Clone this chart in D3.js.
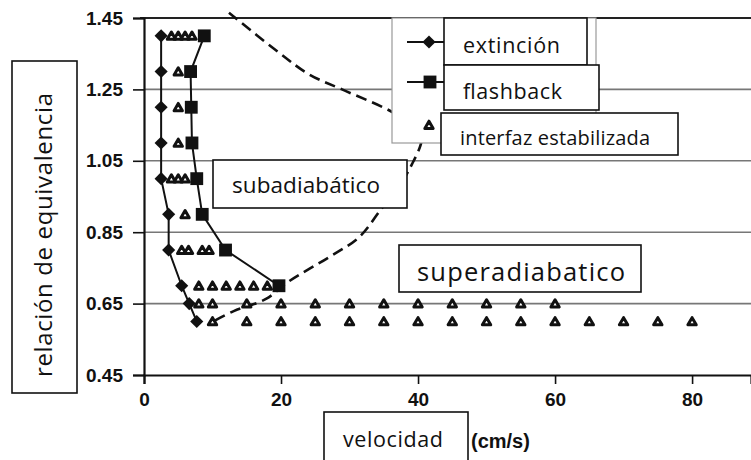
<!DOCTYPE html>
<html>
<head>
<meta charset="utf-8">
<script src="https://cdn.jsdelivr.net/npm/d3@7"></script>
<style>
  body { margin: 0; background: #fff; }
  .tick text { font-family: "Liberation Sans", Arial, sans-serif; font-weight: bold; font-size: 19px; fill: #111; }
  .lbl { font-family: "Open Sans", "Noto Sans", sans-serif; fill: #111; }
</style>
</head>
<body>
<svg width="751" height="460"></svg>
<script>
// ---- data ----
const yTicks = [0.45, 0.65, 0.85, 1.05, 1.25, 1.45];
const xTicks = [0, 20, 40, 60, 80];
const gridY = [0.65, 0.85, 1.05, 1.25];

// extinción (diamonds)
const extX = [2.5, 2.5, 2.5, 2.5, 2.5, 3.6, 3.6, 5.5, 6.6, 7.7];
const extY = [1.4, 1.3, 1.2, 1.1, 1.0, 0.9, 0.8, 0.7, 0.65, 0.6];

// flashback (squares)
const flbX = [8.8, 6.8, 6.9, 7.0, 7.7, 8.5, 11.9, 19.7];
const flbY = [1.4, 1.3, 1.2, 1.1, 1.0, 0.9, 0.8, 0.7];

// interfaz estabilizada (triangles)
const triX = [4, 5, 6, 7,  5,  5,  5,  4, 5, 6,  6,  5.5, 6.5, 8.5, 9.5,
              8, 10, 12, 14, 16, 18,
              8, 10, 15, 20, 25, 30, 35, 40, 45, 50, 55, 60,
              10, 15, 20, 25, 30, 35, 40, 45, 50, 55, 60, 65, 70, 75, 80];
const triY = [1.4, 1.4, 1.4, 1.4, 1.3, 1.2, 1.1, 1.0, 1.0, 1.0, 0.9, 0.8, 0.8, 0.8, 0.8,
              0.7, 0.7, 0.7, 0.7, 0.7, 0.7,
              0.65, 0.65, 0.65, 0.65, 0.65, 0.65, 0.65, 0.65, 0.65, 0.65, 0.65, 0.65,
              0.6, 0.6, 0.6, 0.6, 0.6, 0.6, 0.6, 0.6, 0.6, 0.6, 0.6, 0.6, 0.6, 0.6, 0.6];

// dashed boundary curve
const dashX = [12.4, 19.7, 24.1, 28.9, 36.1, 40.6, 40.4, 39.1, 37.2, 34.6, 31.4, 27.0, 21.2, 17.8, 13.1, 9.9];
const dashY = [1.465, 1.353, 1.292, 1.25, 1.188, 1.13, 1.096, 1.04, 0.976, 0.914, 0.836, 0.78, 0.713, 0.663, 0.629, 0.598];

const svg = d3.select("svg");
const W = 751, H = 460;
const x = d3.scaleLinear().domain([0, 88.6]).range([144, 751]);
const y = d3.scaleLinear().domain([0.45, 1.45]).range([375, 18]);

svg.append("rect").attr("width", W).attr("height", H).attr("fill", "#fff");

// gridlines
svg.selectAll(".grid").data(gridY).enter().append("line")
  .attr("x1", 144).attr("x2", W)
  .attr("y1", d => y(d)).attr("y2", d => y(d))
  .attr("stroke", "#777").attr("stroke-width", 1.6);
// top frame
svg.append("line").attr("x1", 140).attr("x2", W)
  .attr("y1", y(1.45)).attr("y2", y(1.45))
  .attr("stroke", "#222").attr("stroke-width", 2.2);

// axes
const yAxis = svg.append("g").attr("transform", "translate(144,0)")
  .call(d3.axisLeft(y).tickValues(yTicks).tickFormat(d3.format(".2f")).tickSize(11).tickPadding(10));
const xAxis = svg.append("g").attr("transform", "translate(0,375)")
  .call(d3.axisBottom(x).tickValues(xTicks).tickFormat(d3.format("d")).tickSize(9).tickPadding(9));
[yAxis, xAxis].forEach(g => {
  g.select(".domain").attr("stroke", "#111").attr("stroke-width", 2.2);
  g.selectAll(".tick line").attr("stroke", "#111").attr("stroke-width", 1.6);
});

// dashed curve
const dashPts = dashX.map((d, i) => [d, dashY[i]]);
svg.append("path")
  .attr("d", d3.line().x(d => x(d[0])).y(d => y(d[1])).curve(d3.curveCatmullRom)(dashPts))
  .attr("fill", "none").attr("stroke", "#111").attr("stroke-width", 2.6)
  .attr("stroke-dasharray", "11,6");

// series lines
const line = d3.line().x(d => x(d[0])).y(d => y(d[1]));
const extPts = extX.map((d, i) => [d, extY[i]]);
const flbPts = flbX.map((d, i) => [d, flbY[i]]);
svg.append("path").attr("d", line(extPts)).attr("fill", "none").attr("stroke", "#111").attr("stroke-width", 2);
svg.append("path").attr("d", line(flbPts)).attr("fill", "none").attr("stroke", "#111").attr("stroke-width", 2);

const diamond = d3.symbol().type(d3.symbolDiamond2 || d3.symbolDiamond).size(110);
const square = d3.symbol().type(d3.symbolSquare).size(165);
const tri = d3.symbol().type(d3.symbolTriangle).size(30);

// triangles
const triPts = triX.map((d, i) => [d, triY[i]]);
svg.selectAll(".tri").data(triPts).enter().append("path")
  .attr("d", tri)
  .attr("transform", d => `translate(${x(d[0])},${y(d[1]) + 1})`)
  .attr("fill", "#fff").attr("stroke", "#111").attr("stroke-width", 3)
  .attr("stroke-linejoin", "round");

svg.selectAll(".dia").data(extPts).enter().append("path")
  .attr("d", diamond)
  .attr("transform", d => `translate(${x(d[0])},${y(d[1])})`)
  .attr("fill", "#111");
svg.selectAll(".sq").data(flbPts).enter().append("path")
  .attr("d", square)
  .attr("transform", d => `translate(${x(d[0])},${y(d[1])})`)
  .attr("fill", "#111");

// legend
svg.append("rect").attr("x", 392).attr("y", 18).attr("width", 204).attr("height", 125)
  .attr("fill", "#fff").attr("stroke", "#999").attr("stroke-width", 1.2);
svg.append("line").attr("x1", 407).attr("x2", 444).attr("y1", 42).attr("y2", 42).attr("stroke", "#111").attr("stroke-width", 2);
svg.append("path").attr("d", diamond).attr("transform", "translate(429,42)").attr("fill", "#111");
svg.append("line").attr("x1", 407).attr("x2", 444).attr("y1", 82).attr("y2", 82).attr("stroke", "#111").attr("stroke-width", 2);
svg.append("path").attr("d", square).attr("transform", "translate(430,82)").attr("fill", "#111");
svg.append("path").attr("d", tri).attr("transform", "translate(429,126)")
  .attr("fill", "#fff").attr("stroke", "#111").attr("stroke-width", 3).attr("stroke-linejoin", "round");

// text boxes
function box(bx, by, bw, bh, txt, tx, ty, size, len) {
  svg.append("rect").attr("x", bx).attr("y", by).attr("width", bw).attr("height", bh)
    .attr("fill", "#fff").attr("stroke", "#111").attr("stroke-width", 1.6);
  svg.append("text").attr("class", "lbl").attr("x", tx).attr("y", ty)
    .attr("font-size", size).attr("textLength", len).attr("lengthAdjust", "spacing")
    .text(txt);
}
box(444, 18, 143, 47, "extinción", 463, 53, 21.5, 97);
box(444, 65, 155, 45, "flashback", 463, 99, 21.5, 99);
box(441, 113, 237, 42, "interfaz estabilizada", 460, 145, 20, 190);
box(213, 160, 194, 48, "subadiabático", 232, 193, 22.5, 148);
box(399, 245, 242, 47, "superadiabatico", 417, 281, 25.5, 208);
box(324, 412, 144, 60, "velocidad", 343, 447, 21.5, 100);

// y label box
svg.append("rect").attr("x", 12).attr("y", 61).attr("width", 65).attr("height", 332)
  .attr("fill", "#fff").attr("stroke", "#111").attr("stroke-width", 1.6);
svg.append("text").attr("class", "lbl")
  .attr("transform", "translate(52,377) rotate(-90)")
  .attr("font-size", 24).attr("textLength", 284).attr("lengthAdjust", "spacing")
  .text("relación de equivalencia");

svg.append("text").attr("x", 471).attr("y", 448)
  .attr("font-family", "Liberation Sans, Arial, sans-serif").attr("font-weight", "bold")
  .attr("font-size", 20).attr("fill", "#111").text("(cm/s)");
</script>
</body>
</html>
